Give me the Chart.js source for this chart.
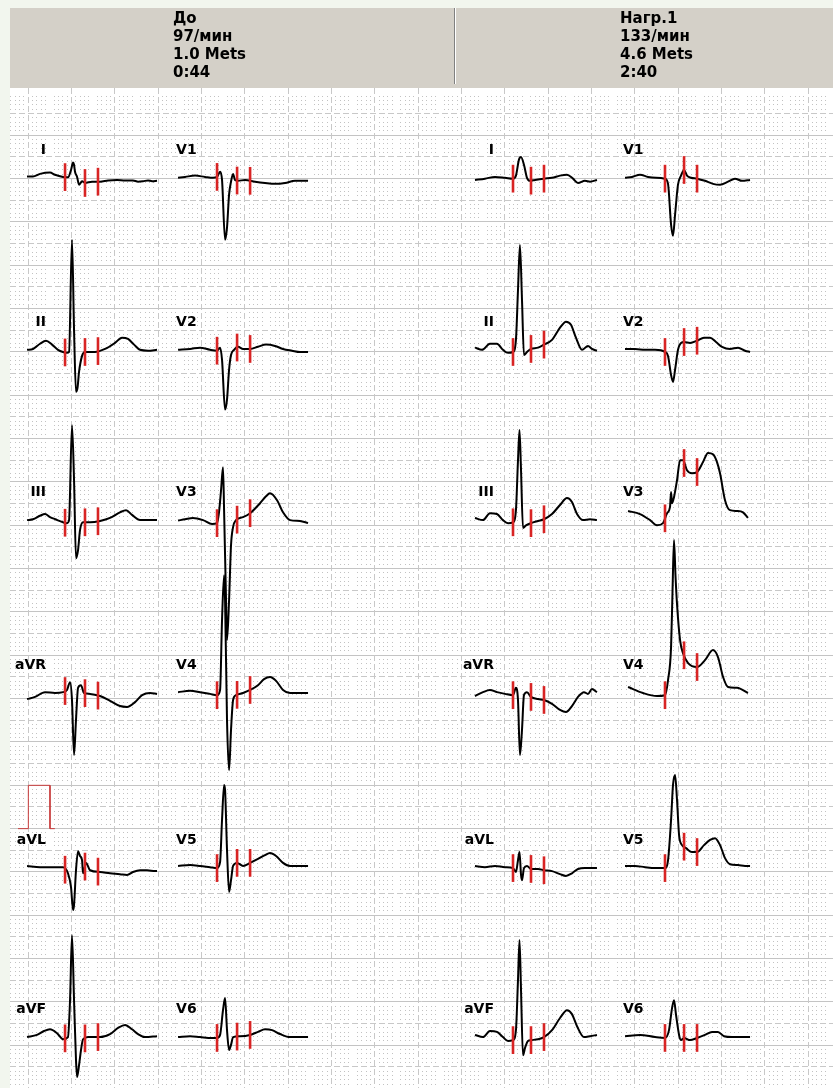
<!DOCTYPE html>
<html>
<head>
<meta charset="utf-8">
<script src="https://cdn.jsdelivr.net/npm/chart.js@4.4.1/dist/chart.umd.min.js"></script>
<style>
  html, body { margin: 0; padding: 0; background: #f2f6ee; }
  canvas { display: block; }
</style>
</head>
<body>
<canvas id="ecg" width="833" height="1088"></canvas>
<script>
// ---- stage headers ----
const stagePre = ['До', '97/мин', '1.0 Mets', '0:44'];
const stageLoad = ['Нагр.1', '133/мин', '4.6 Mets', '2:40'];

const limbLeads = ['I', 'II', 'III', 'aVR', 'aVL', 'aVF'];
const chestLeads = ['V1', 'V2', 'V3', 'V4', 'V5', 'V6'];

// ---- averaged complexes: [time ms, amplitude mV] ----
// stage "До"
const pre_I = [[0,.03],[55,.03],[120,.09],[212,.12],[258,.07],[332,.02],[378,.01],[406,.18],[425,.35],[434,.30],[443,.14],[462,.02],[480,-.16],[508,-.08],[535,-.12],[600,-.09],[674,-.09],[748,-.06],[831,-.05],[905,-.06],[978,-.06],[1025,-.09],[1071,-.08],[1117,-.06],[1154,-.08],[1200,-.07]];
const pre_II = [[0,0],[55,.02],[120,.14],[175,.21],[231,.12],[286,0],[332,-.05],[369,-.07],[388,-.05],[415,2.54],[434,.46],[452,-.97],[466,-.88],[480,-.51],[508,-.14],[535,-.05],[628,-.05],[720,.02],[812,.16],[877,.28],[932,.25],[988,.12],[1043,0],[1117,-.02],[1200,0]];
const pre_III = [[0,0],[55,.02],[120,.10],[166,.14],[212,.07],[260,.02],[332,-.05],[369,-.07],[388,0],[415,2.19],[434,.92],[452,-.88],[471,-.69],[489,-.23],[517,-.05],[582,-.05],[674,-.02],[766,.05],[858,.18],[914,.23],[969,.12],[1043,0],[1117,0],[1200,0]];
const pre_aVR = [[0,-.14],[74,-.09],[166,.02],[258,0],[332,.02],[369,.07],[397,.25],[415,-.16],[434,-1.43],[452,-.62],[471,.12],[498,.18],[526,0],[582,-.02],[674,-.07],[766,-.18],[858,-.30],[923,-.32],[997,-.21],[1062,-.05],[1135,0],[1200,-.02]];
const pre_aVL = [[0,.05],[120,.02],[212,.02],[332,.02],[378,-.12],[406,-.44],[425,-.97],[434,-.85],[452,-.05],[471,.39],[489,.28],[508,.18],[517,-.12],[545,.12],[582,-.05],[674,-.09],[766,-.12],[858,-.14],[923,-.16],[978,-.09],[1043,-.05],[1108,-.05],[1182,-.07],[1200,-.07]];
const pre_aVF = [[0,0],[92,.05],[157,.14],[212,.18],[277,.09],[332,-.05],[378,0],[397,.85],[415,2.35],[434,.85],[452,-.53],[462,-.92],[480,-.65],[498,-.30],[517,-.05],[563,0],[674,0],[766,.07],[840,.21],[905,.28],[969,.18],[1025,.07],[1089,0],[1200,.02]];
const pre_V1 = [[0,0],[65,.02],[157,.05],[249,.02],[323,0],[360,.02],[388,.14],[406,-.05],[434,-1.43],[452,-1.15],[471,-.39],[489,-.09],[508,.09],[526,-.05],[554,-.07],[618,-.05],[711,-.09],[803,-.12],[895,-.14],[988,-.12],[1080,-.07],[1200,-.07]];
const pre_V2 = [[0,0],[111,.02],[203,.05],[295,0],[360,-.02],[388,.05],[406,-.23],[434,-1.38],[452,-1.15],[471,-.46],[489,-.12],[517,0],[554,.07],[600,.02],[665,.02],[738,.07],[812,.12],[895,.09],[969,.02],[1052,-.02],[1126,-.05],[1200,-.05]];
const pre_V3 = [[0,-.01],[65,.02],[138,.05],[231,0],[314,-.09],[360,-.07],[378,.18],[397,.69],[415,1.22],[425,.23],[443,-1.85],[452,-2.77],[471,-1.85],[489,-.58],[508,-.16],[535,0],[600,.07],[665,.16],[757,.39],[812,.55],[849,.62],[914,.46],[969,.18],[1034,0],[1126,-.02],[1200,-.07]];
const pre_V4 = [[0,.02],[111,.05],[203,.02],[295,-.02],[360,-.05],[388,.07],[406,1.68],[425,2.72],[434,2.15],[452,-.62],[471,-1.78],[489,-.85],[508,-.16],[535,-.05],[600,0],[665,.07],[738,.18],[794,.32],[849,.37],[905,.28],[969,.07],[1034,0],[1126,0],[1200,0]];
const pre_V5 = [[0,.05],[111,.07],[203,.05],[295,.02],[360,0],[388,.14],[406,1.11],[425,1.92],[434,1.80],[452,.42],[471,-.55],[489,-.28],[508,.05],[545,.12],[600,.05],[665,.12],[738,.21],[803,.30],[849,.35],[905,.28],[969,.12],[1034,.05],[1126,.05],[1200,.05]];
const pre_V6 = [[0,0],[111,.02],[203,0],[314,-.02],[360,-.02],[388,.05],[415,.62],[434,.90],[452,.16],[471,-.30],[489,-.18],[508,0],[572,.02],[665,.05],[738,.12],[803,.18],[868,.16],[942,.07],[1034,0],[1200,0]];

// stage "Нагр.1"
const ex_I = [[0,-.05],[92,-.02],[185,.02],[277,0],[351,-.02],[378,.05],[406,.42],[425,.48],[452,.30],[480,0],[508,-.07],[554,-.05],[637,-.02],[711,0],[785,.05],[849,.07],[905,-.02],[951,-.12],[1015,-.07],[1062,-.09],[1126,-.05]];
const ex_II = [[0,.05],[65,0],[138,.14],[203,.14],[258,0],[305,-.07],[351,-.05],[378,.23],[397,1.38],[415,2.42],[434,1.15],[452,-.12],[480,-.05],[517,.02],[582,.05],[637,.12],[711,.23],[785,.51],[840,.65],[886,.58],[932,.28],[988,0],[1043,.09],[1080,.02],[1126,-.02]];
const ex_III = [[0,.05],[74,0],[138,.16],[203,.14],[258,0],[305,-.07],[351,-.05],[378,.23],[397,1.38],[411,2.08],[425,1.15],[443,-.18],[471,-.12],[517,-.07],[582,-.02],[637,.02],[711,.14],[785,.35],[849,.51],[895,.42],[942,.14],[997,0],[1062,.02],[1126,0]];
const ex_aVR = [[0,-.07],[74,.02],[138,.07],[203,.02],[277,-.02],[351,-.05],[378,.12],[397,-.16],[415,-1.43],[434,-.85],[452,-.05],[480,.02],[517,-.09],[582,-.14],[637,-.16],[711,-.25],[785,-.39],[840,-.44],[895,-.30],[951,-.09],[1006,.02],[1043,-.02],[1080,.09],[1126,.02]];
const ex_aVL = [[0,.05],[92,.02],[185,.05],[277,.02],[351,0],[378,-.09],[397,.18],[411,.37],[425,-.16],[434,-.28],[452,0],[480,.05],[517,-.02],[582,-.02],[637,-.05],[711,-.07],[785,-.14],[840,-.18],[895,-.12],[951,-.02],[1015,0],[1126,0]];
const ex_aVF = [[0,.05],[74,0],[138,.14],[203,.12],[258,0],[305,-.09],[351,-.07],[378,.16],[397,1.32],[411,2.24],[425,1.08],[443,-.42],[462,-.25],[489,-.09],[517,-.07],[582,-.05],[637,0],[711,.16],[785,.44],[849,.62],[895,.53],[942,.25],[1006,0],[1062,.02],[1126,.05]];
const ex_V1 = [[0,0],[65,.02],[138,.07],[212,.02],[286,0],[369,-.02],[397,-.14],[425,-1.08],[443,-1.34],[462,-.85],[489,-.16],[517,.05],[545,.18],[572,.05],[609,0],[665,-.02],[738,-.07],[812,-.14],[877,-.16],[951,-.09],[1015,-.02],[1080,-.07],[1154,-.05]];
const ex_V2 = [[0,.02],[92,.02],[185,0],[277,0],[369,-.05],[397,-.14],[425,-.58],[443,-.74],[462,-.46],[489,0],[517,.16],[545,.18],[600,.16],[665,.21],[729,.28],[785,.28],[840,.18],[895,.07],[969,.02],[1043,.05],[1108,-.02],[1154,-.05]];
const ex_V3 = [[28,.21],[138,.14],[231,0],[295,-.12],[351,-.07],[388,.16],[415,.30],[425,.65],[434,.39],[452,.53],[480,.92],[508,1.38],[535,1.38],[572,1.15],[618,1.08],[665,1.11],[720,1.34],[766,1.55],[812,1.52],[849,1.34],[877,1.08],[923,.46],[969,.23],[1034,.21],[1089,.18],[1135,.05]];
const ex_V4 = [[28,.14],[166,0],[295,-.07],[369,-.05],[397,.30],[425,1.06],[438,2.30],[452,3.53],[466,2.70],[480,2.05],[508,1.22],[535,.92],[582,.69],[665,.60],[738,.76],[812,.99],[858,.83],[905,.37],[951,.14],[1034,.12],[1135,0]];
const ex_V5 = [[0,.05],[92,.05],[185,.02],[277,0],[369,0],[397,.18],[425,1.11],[443,1.92],[462,2.15],[480,1.57],[499,.76],[526,.53],[563,.46],[618,.37],[665,.37],[729,.53],[785,.65],[831,.69],[877,.53],[923,.23],[969,.09],[1043,.07],[1108,.05],[1154,.05]];
const ex_V6 = [[0,.02],[138,.05],[277,0],[369,-.02],[406,.16],[434,.67],[452,.85],[471,.51],[499,.05],[517,-.07],[545,-.02],[600,-.07],[665,-.02],[738,.05],[803,.12],[858,.12],[914,.02],[988,0],[1062,0],[1154,0]];

// measurement marks (ms from the start of each complex): onset, J, ST point
const marksPreLimb = [351, 535, 655];
const marksPreChest = [360, 545, 665];
const marksLoadLimb = [351, 517, 637];
const marksLoadChest = [369, 545, 665];

// 1 mV calibration pulse [ms, mV]
const calPulse = [[0,0],[95,0],[95,1],[295,1],[295,0],[340,0]];

// ---- paper layout (25 mm/s, 10 mm/mV) ----
const colStart = [188, 1582, 4323, 5708];        // ms on the paper
const rowBase = [21.02, 17.05, 13.12, 9.13, 5.09, 1.19]; // mV on the paper
const calOrigin = [105, 6.0];
const markHalf = 0.32;

const panels = [
  { limb: [pre_I, pre_II, pre_III, pre_aVR, pre_aVL, pre_aVF],
    chest: [pre_V1, pre_V2, pre_V3, pre_V4, pre_V5, pre_V6],
    marksLimb: marksPreLimb, marksChest: marksPreChest, cols: [0, 1] },
  { limb: [ex_I, ex_II, ex_III, ex_aVR, ex_aVL, ex_aVF],
    chest: [ex_V1, ex_V2, ex_V3, ex_V4, ex_V5, ex_V6],
    marksLimb: marksLoadLimb, marksChest: marksLoadChest, cols: [2, 3] }
];

function levelAt(trace, t) {
  for (let i = 1; i < trace.length; i++) {
    const [t0, v0] = trace[i - 1], [t1, v1] = trace[i];
    if (t >= t0 && t <= t1) return v0 + (v1 - v0) * (t - t0) / (t1 - t0);
  }
  return trace[trace.length - 1][1];
}

const datasets = [];
const leadTags = [];
panels.forEach(p => {
  [[p.limb, limbLeads, p.marksLimb, p.cols[0], 'limb'], [p.chest, chestLeads, p.marksChest, p.cols[1], 'chest']]
    .forEach(([traces, names, marks, col, kind]) => {
      traces.forEach((tr, r) => {
        const x0 = colStart[col], y0 = rowBase[r];
        datasets.push({
          data: tr.map(([t, v]) => ({ x: x0 + t, y: y0 + v })),
          borderColor: '#000000', borderWidth: 2, order: 2,
          cubicInterpolationMode: 'monotone'
        });
        marks.forEach(m => {
          const lv = y0 + levelAt(tr, m);
          datasets.push({
            data: [{ x: x0 + m, y: lv - markHalf }, { x: x0 + m, y: lv + markHalf }],
            borderColor: '#d82424', borderWidth: 2.6, order: 1, borderCapStyle: 'butt'
          });
        });
        leadTags.push({ name: names[r], x0, y0, kind });
      });
    });
});
datasets.push({
  data: calPulse.map(([t, v]) => ({ x: calOrigin[0] + t, y: calOrigin[1] + v })),
  borderColor: '#c83c3c', borderWidth: 1, order: 1
});

// ---- paper, header band and lead names ----
const paper = {
  id: 'paper',
  beforeDraw(chart) {
    const { ctx, chartArea: a } = chart;
    ctx.save();
    ctx.fillStyle = '#f2f6ee';
    ctx.fillRect(0, 0, chart.width, chart.height);
    ctx.fillStyle = '#ffffff';
    ctx.fillRect(a.left, a.top, a.right - a.left, a.bottom - a.top);
    // header band
    ctx.fillStyle = '#d4d0c8';
    ctx.fillRect(a.left, 8, a.right - a.left, a.top - 8);
    ctx.fillStyle = '#808080';
    ctx.fillRect(454, 8, 1, a.top - 12);
    ctx.fillStyle = '#ffffff';
    ctx.fillRect(455, 8, 1, a.top - 12);
    ctx.fillStyle = '#000000';
    ctx.font = 'bold 15px "DejaVu Sans"';
    ctx.textBaseline = 'alphabetic';
    ctx.textAlign = 'left';
    [[stagePre, 173], [stageLoad, 620]].forEach(([lines, hx]) => {
      lines.forEach((s, i) => ctx.fillText(s, hx, 23 + i * 18));
    });
    ctx.restore();
  },
  beforeDatasetsDraw(chart) {
    const { ctx, chartArea: a, scales: { x, y } } = chart;
    ctx.save();
    ctx.beginPath();
    ctx.rect(a.left, a.top, a.right - a.left, a.bottom - a.top);
    ctx.clip();
    // 5 mm dashed lines
    ctx.strokeStyle = '#c8c8c8';
    ctx.lineWidth = 1;
    ctx.setLineDash([6, 3]);
    const i0 = Math.ceil(x.min / 40), i1 = Math.floor(x.max / 40);
    const j0 = Math.ceil(y.min * 10), j1 = Math.floor(y.max * 10);
    ctx.beginPath();
    for (let i = i0; i <= i1; i++) {
      if (((i % 10) + 10) % 10 !== 5) continue;
      const px = Math.round(x.getPixelForValue(i * 40) - 0.5) + 0.5;
      ctx.moveTo(px, a.top); ctx.lineTo(px, a.bottom);
    }
    for (let j = j0; j <= j1; j++) {
      if (((j % 10) + 10) % 10 !== 5) continue;
      const py = Math.round(y.getPixelForValue(j / 10) - 0.5) + 0.5;
      ctx.moveTo(a.left, py); ctx.lineTo(a.right, py);
    }
    ctx.stroke();
    // 1 mm dots
    ctx.fillStyle = '#c2c2c2';
    for (let i = i0; i <= i1; i++) {
      if (i % 5 === 0) continue;
      const px = Math.round(x.getPixelForValue(i * 40) - 0.5);
      for (let j = j0; j <= j1; j++) {
        if (j % 5 === 0) continue;
        const py = Math.round(y.getPixelForValue(j / 10) - 0.5);
        ctx.fillRect(px, py, 1, 1);
      }
    }
    ctx.restore();
  },
  afterDatasetsDraw(chart) {
    const { ctx, scales: { x, y } } = chart;
    ctx.save();
    ctx.fillStyle = '#000000';
    ctx.font = 'bold 14px "DejaVu Sans"';
    ctx.textBaseline = 'alphabetic';
    leadTags.forEach(tag => {
      const px = x.getPixelForValue(tag.x0);
      const py = y.getPixelForValue(tag.y0) - 24;
      if (tag.kind === 'limb') {
        ctx.textAlign = 'right';
        ctx.fillText(tag.name, px + 19, py);
      } else {
        ctx.textAlign = 'left';
        ctx.fillText(tag.name, px - 2, py);
      }
    });
    ctx.restore();
  }
};

const onlyMultiples = step => scale => {
  scale.ticks = scale.ticks.filter(t => Math.abs(t.value / step - Math.round(t.value / step)) < 1e-6);
};

new Chart(document.getElementById('ecg'), {
  type: 'scatter',
  data: { datasets },
  plugins: [paper],
  options: {
    responsive: false,
    devicePixelRatio: 1,
    animation: false,
    events: [],
    layout: { padding: { left: 10, top: 88, right: 0, bottom: 0 } },
    showLine: true,
    elements: {
      point: { radius: 0, hoverRadius: 0 },
      line: { tension: 0, borderJoinStyle: 'round', fill: false }
    },
    plugins: { legend: { display: false }, tooltip: { enabled: false }, title: { display: false } },
    scales: {
      x: {
        type: 'linear', min: 30.8, max: 7627.8,
        border: { display: false },
        ticks: { display: false, stepSize: 400 },
        grid: { color: '#c4c4c4', lineWidth: 1, drawTicks: false },
        afterBuildTicks: onlyMultiples(400)
      },
      y: {
        type: 'linear', min: 0.015, max: 23.092,
        border: { display: false },
        ticks: { display: false, stepSize: 1 },
        grid: { color: '#c4c4c4', lineWidth: 1, drawTicks: false },
        afterBuildTicks: onlyMultiples(1)
      }
    }
  }
});
</script>
</body>
</html>
